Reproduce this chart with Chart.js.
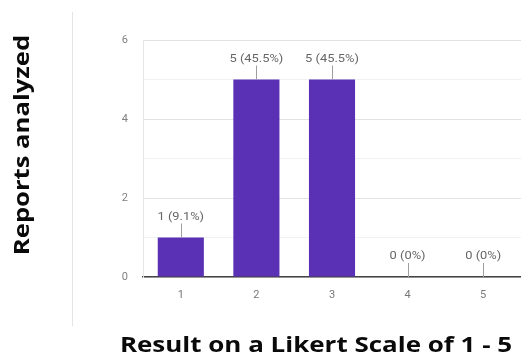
<!DOCTYPE html>
<html>
<head>
<meta charset="utf-8">
<script src="https://cdn.jsdelivr.net/npm/chart.js@4.4.1/dist/chart.umd.min.js"></script>
<style>
  html, body { margin: 0; padding: 0; background: #fff; }
  #wrap { width: 521px; height: 356px; }
</style>
</head>
<body>
<div id="wrap"><canvas id="grafico" width="521" height="356"></canvas></div>
<script>
const ctx = document.getElementById('grafico');

// notas da escala e quantidade de relatos em cada uma
const categorias = ['1', '2', '3', '4', '5'];
const relatos = [1, 5, 5, 0, 0];
const ticksY = [0, 2, 4, 6];

const tituloY = 'Reports analyzed';
const tituloX = 'Result on a Likert Scale of 1 - 5';

const total = relatos.reduce((a, b) => a + b, 0);
const roxo = '#5a30b4';

// rótulo "n (x%)" com a linha fina que liga ao topo da barra
const rotulos = {
  id: 'rotulos',
  afterDatasetsDraw(chart) {
    const c = chart.ctx;
    const meta = chart.getDatasetMeta(0);
    meta.data.forEach((barra, i) => {
      const v = relatos[i];
      const p = v / total * 100;
      const txt = v + ' (' + (p === 0 ? '0' : p.toFixed(1)) + '%)';
      c.save();
      c.strokeStyle = '#9e9e9e';
      c.lineWidth = 1;
      c.beginPath();
      c.moveTo(Math.round(barra.x) + 0.5, barra.y);
      c.lineTo(Math.round(barra.x) + 0.5, barra.y - 14);
      c.stroke();
      c.fillStyle = '#666';
      c.font = '11px Roboto';
      c.textAlign = 'center';
      c.textBaseline = 'alphabetic';
      c.translate(barra.x, barra.y - 18);
      c.scale(1.17, 1);
      c.fillText(txt, 0, 0);
      c.restore();
    });
  }
};

// títulos dos eixos e a linha separadora à esquerda
const titulos = {
  id: 'titulos',
  afterDraw(chart) {
    const c = chart.ctx;
    c.save();
    c.strokeStyle = '#e4e4e4';
    c.lineWidth = 1;
    c.beginPath();
    c.moveTo(72.5, 12);
    c.lineTo(72.5, 326);
    c.stroke();

    c.fillStyle = '#0a0a0a';
    c.font = 'bold 21px "Open Sans"';
    c.textAlign = 'center';
    c.textBaseline = 'middle';
    c.translate(23, 145);
    c.rotate(-Math.PI / 2);
    c.scale(1.22, 1);
    c.fillText(tituloY, 0, 0);
    c.restore();

    c.save();
    c.fillStyle = '#0a0a0a';
    c.font = 'bold 22px "Open Sans"';
    c.textAlign = 'center';
    c.textBaseline = 'alphabetic';
    c.translate(316, 352);
    c.scale(1.18, 1);
    c.fillText(tituloX, 0, 0);
    c.restore();
  }
};

let grafico = new Chart(ctx, {
  type: 'bar',
  data: {
    labels: categorias,
    datasets: [{
      data: relatos,
      backgroundColor: roxo,
      borderWidth: 0,
      barPercentage: 0.61,
      categoryPercentage: 1
    }]
  },
  options: {
    responsive: false,
    animation: false,
    layout: { padding: { top: 40, right: 0, bottom: 0, left: 0 } },
    plugins: {
      legend: { display: false },
      tooltip: { enabled: false }
    },
    scales: {
      x: {
        grid: { display: false, drawTicks: false },
        border: { display: true, color: '#444', width: 1.5 },
        ticks: { color: '#777', font: { family: 'Roboto', size: 11 }, padding: 12 },
        afterFit(scale) { scale.height = 79; }
      },
      y: {
        min: 0,
        max: 6,
        ticks: {
          stepSize: 1,
          color: '#808080',
          font: { family: 'Roboto', size: 11 },
          padding: 15,
          callback: v => ticksY.includes(v) ? v : ''
        },
        grid: {
          drawTicks: false,
          color: c => (c.tick && ticksY.includes(c.tick.value)) ? '#e2e2e2' : '#f1f1f1'
        },
        border: { display: true, color: '#e6e6e6' },
        afterFit(scale) { scale.width = 143; }
      }
    }
  },
  plugins: [rotulos, titulos]
});
</script>
</body>
</html>
